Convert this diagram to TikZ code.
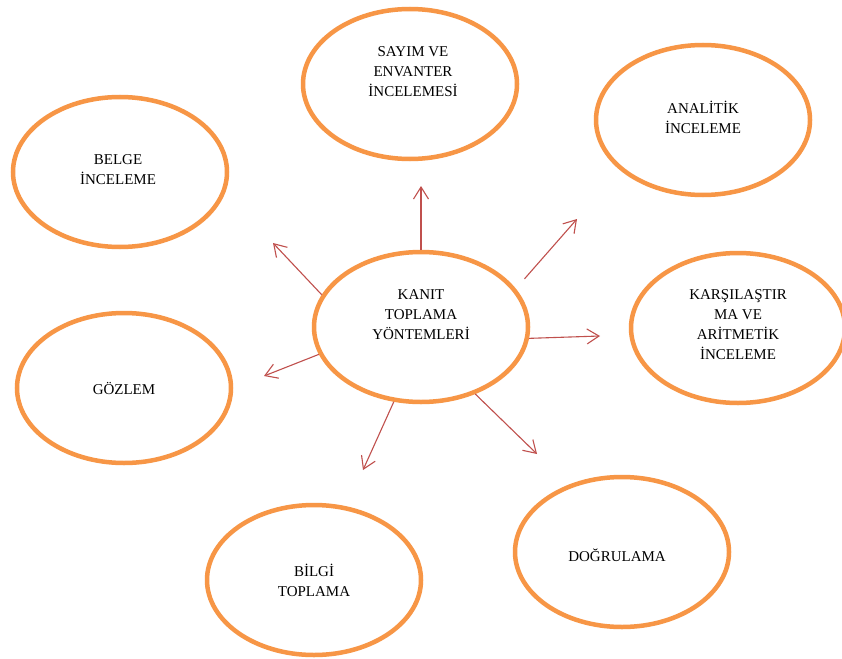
\documentclass[tikz,border=0pt]{standalone}
\usepackage{fontspec}
\setmainfont{Liberation Serif}
\usetikzlibrary{shapes.geometric,arrows.meta}
\definecolor{ovalorange}{RGB}{247,150,70}
\definecolor{spokered}{RGB}{192,80,77}

\begin{document}
\begin{tikzpicture}[x=1pt,y=-1pt]
\tikzstyle{oval}=[draw=ovalorange, line width=4.5pt, ellipse, minimum width=214pt, minimum height=150pt, inner sep=0pt]
\tikzstyle{lbl}=[align=center, inner sep=0pt, font=\fontsize{15}{20}\selectfont]
\tikzstyle{spoke}=[draw=spokered, line width=1.1pt, -{Straight Barb[length=12pt,width=15pt]}]
\useasboundingbox (0,0) rectangle (842,658);
\fill [white] (0,0) rectangle (842,658);
% ovals
\node [oval] (kanit) at (421,327) {};
\node [oval] (sayim) at (410,84) {};
\node [oval] (analitik) at (703,120) {};
\node [oval] (belge) at (120,172) {};
\node [oval] (karsi) at (738,328) {};
\node [oval] (gozlem) at (124,388) {};
\node [oval] (bilgi) at (314,580) {};
\node [oval] (dogru) at (622,552) {};
% texts
\node [lbl] (kanit-t) at ([yshift=12pt]kanit) {KANIT\\TOPLAMA\\YÖNTEMLERİ};
\node [lbl] (sayim-t) at ([xshift=3pt,yshift=12pt]sayim) {SAYIM VE\\ENVANTER\\İNCELEMESİ};
\node [lbl] (analitik-t) at ([yshift=3pt]analitik) {ANALİTİK\\İNCELEME};
\node [lbl] (belge-t) at ([xshift=-2pt,yshift=2pt]belge) {BELGE\\İNCELEME};
\node [lbl] (karsi-t) at ([yshift=3pt]karsi) {KARŞILAŞTIR\\MA VE\\ARİTMETİK\\İNCELEME};
\node [lbl] (gozlem-t) at (gozlem) {GÖZLEM};
\node [lbl] (bilgi-t) at (bilgi) {BİLGİ\\TOPLAMA};
\node [lbl] (dogru-t) at ([xshift=-5pt,yshift=-3pt]dogru) {DOĞRULAMA};
% free ends of the arrows
\coordinate (up) at (421,186);
\coordinate (upleft) at (273,243);
\coordinate (upright) at (577,219);
\coordinate (right) at (600,336);
\coordinate (downleft) at (264,376);
\coordinate (down) at (363,470);
\coordinate (downright) at (537,454);
\draw [spoke] (kanit.90) -- (up);
\draw [spoke] (kanit.162) -- (upleft);
\draw [spoke, shorten <=13pt] (kanit.22) -- (upright);
\draw [spoke] (kanit.-6) -- (right);
\draw [spoke] (kanit.195) -- (downleft);
\draw [spoke] (kanit.250) -- (down);
\draw [spoke] (kanit.-51) -- (downright);
\end{tikzpicture}
\end{document}
